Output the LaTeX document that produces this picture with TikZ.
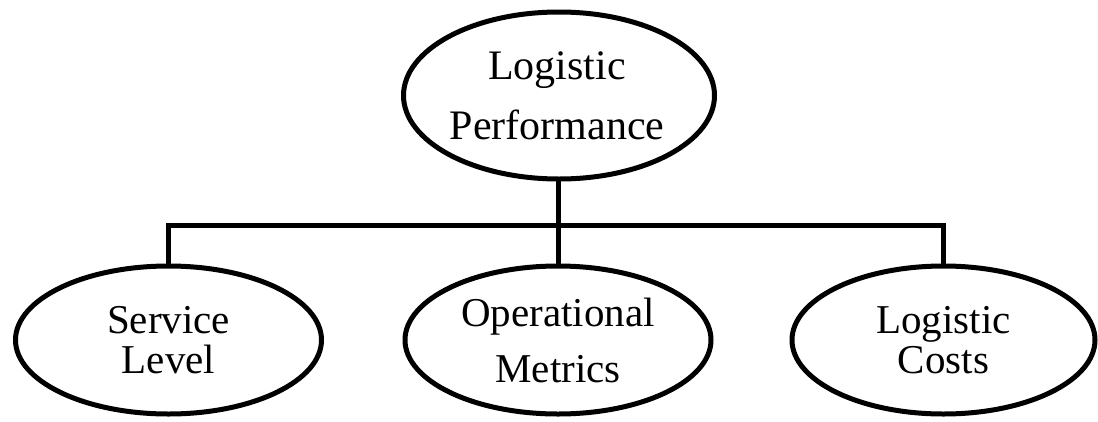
\documentclass[tikz,border=0pt]{standalone}
\usepackage{fontspec}
\setmainfont{Liberation Serif}
\usetikzlibrary{shapes.geometric}
\begin{document}
\begin{tikzpicture}[x=1pt,y=-1pt,
  oval/.style={draw=black, line width=5pt, ellipse, inner sep=0pt, outer sep=0pt,
    minimum width=306pt, minimum height=148pt},
  lbl/.style={inner sep=0pt, align=center},
  link/.style={draw=black, line width=5pt}]
\useasboundingbox (0,0) rectangle (1098,421);
\node[oval, minimum width=311pt, minimum height=167pt] (top) at (559,95.5) {};
\node[lbl, font=\fontsize{42}{60}\selectfont] (topt) at (557,95.5) {Logistic\\Performance};
\node[oval] (sl) at (168.5,340) {};
\node[lbl, font=\fontsize{41}{40}\selectfont] (slt) at (sl) {Service\\Level};
\node[oval] (om) at (558,340) {};
\node[lbl, font=\fontsize{41}{56}\selectfont] (omt) at (om) {Operational\\Metrics};
\node[oval, minimum width=303pt] (lc) at (943.5,340) {};
\node[lbl, font=\fontsize{41}{40}\selectfont] (lct) at (lc) {Logistic\\Costs};
\coordinate (bar) at (558,225);
\draw[link] (top.south -| om.north) -- (om.north);
\draw[link] (sl.north) |- (bar) -| (lc.north);
\end{tikzpicture}
\end{document}
